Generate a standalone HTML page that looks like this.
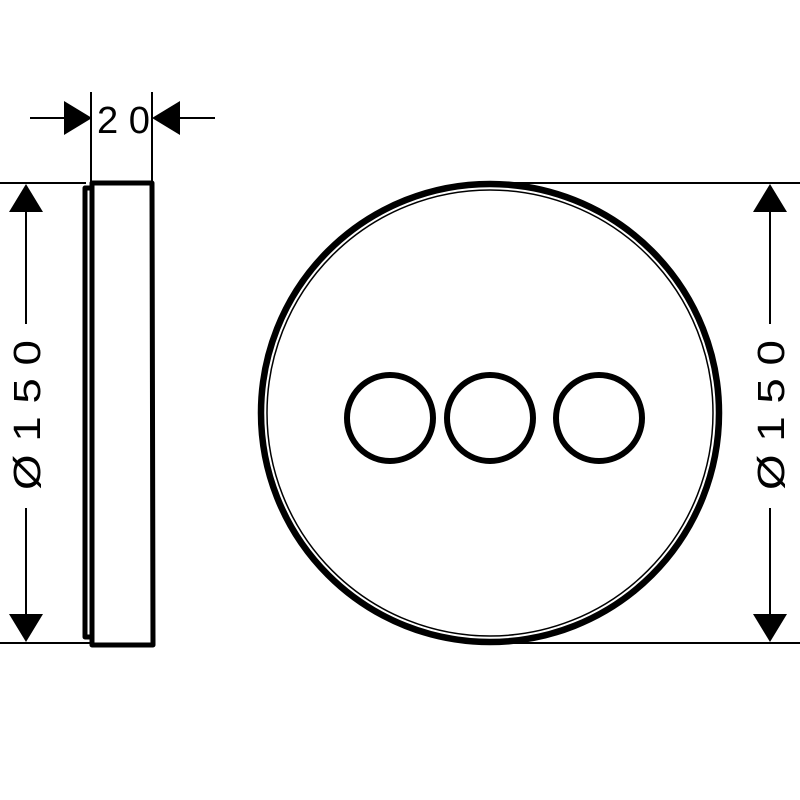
<!DOCTYPE html>
<html><head><style>html,body{margin:0;padding:0;background:#fff}svg{display:block}</style></head>
<body>
<svg width="800" height="800" viewBox="0 0 800 800" xmlns="http://www.w3.org/2000/svg">
<rect width="800" height="800" fill="#fff"/>
<g stroke="#000" fill="none">
  <line x1="30" y1="118" x2="64" y2="118" stroke-width="2"/>
  <line x1="180" y1="118" x2="215" y2="118" stroke-width="2"/>
  <line x1="91" y1="92" x2="91" y2="182" stroke-width="2"/>
  <line x1="152" y1="92" x2="152" y2="182" stroke-width="2"/>
  <line x1="0" y1="183" x2="86" y2="183" stroke-width="2"/>
  <line x1="0" y1="643" x2="92" y2="643" stroke-width="2"/>
  <line x1="26" y1="205" x2="26" y2="324" stroke-width="2"/>
  <line x1="26" y1="508" x2="26" y2="620" stroke-width="2"/>
  <path d="M92 183 L152 183 L153 645 L92 645 Z" stroke-width="5" stroke-linejoin="round"/>
  <path d="M91 188 L85 188 L85 637 L91 637" stroke-width="5" stroke-linejoin="round"/>
  <circle cx="490" cy="413" r="229" stroke-width="6.5"/>
  <circle cx="490" cy="413" r="223" stroke-width="1.5"/>
  <circle cx="390" cy="418" r="43" stroke-width="6"/>
  <circle cx="490" cy="418" r="43" stroke-width="6"/>
  <circle cx="599" cy="418" r="43" stroke-width="6"/>
  <line x1="490" y1="183" x2="800" y2="183" stroke-width="2"/>
  <line x1="490" y1="643" x2="800" y2="643" stroke-width="2"/>
  <line x1="770" y1="205" x2="770" y2="324" stroke-width="2"/>
  <line x1="770" y1="508" x2="770" y2="620" stroke-width="2"/>
</g>
<g fill="#000">
  <polygon points="64,101 92,118 64,135"/>
  <polygon points="180,101 152,118 180,135"/>
  <polygon points="26,184 9,212 43,212"/>
  <polygon points="26,642 9,614 43,614"/>
  <polygon points="770,184 753,212 787,212"/>
  <polygon points="770,642 753,614 787,614"/>
</g>
<g font-family="Liberation Sans, sans-serif" font-size="38" fill="#000">
  <text x="97" y="133" textLength="53" lengthAdjust="spacingAndGlyphs">2 0</text>
  <text transform="translate(40,490) rotate(-90)" textLength="150" lengthAdjust="spacingAndGlyphs">Ø 1 5 0</text>
  <text transform="translate(784,490) rotate(-90)" textLength="150" lengthAdjust="spacingAndGlyphs">Ø 1 5 0</text>
</g>
</svg>
</body></html>
